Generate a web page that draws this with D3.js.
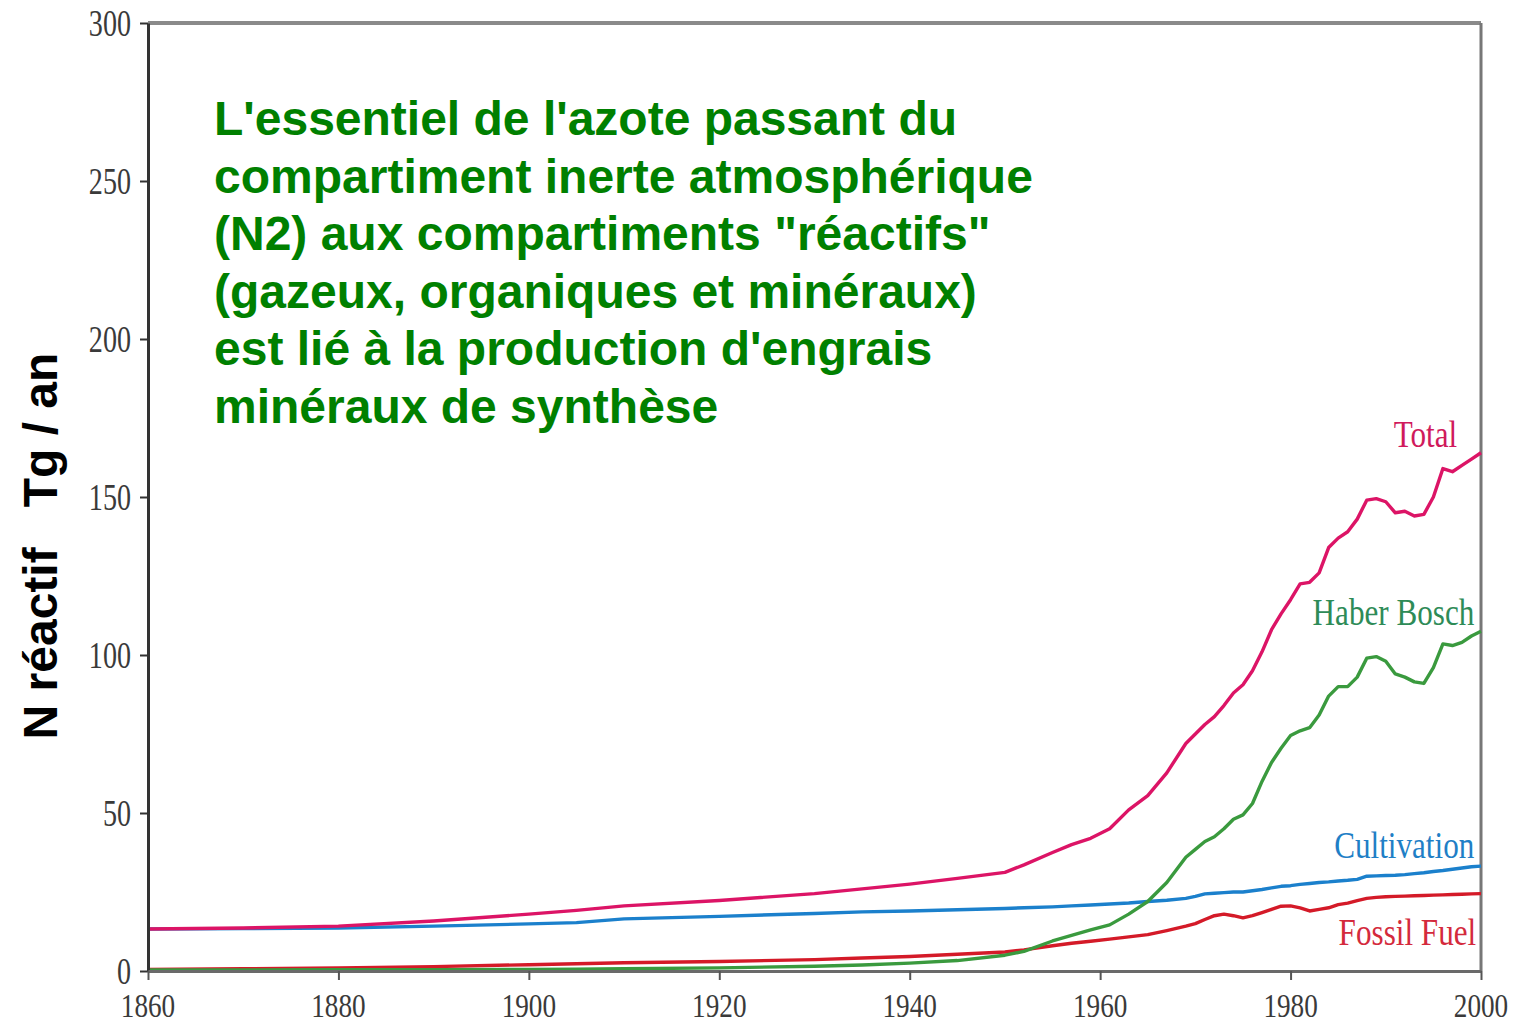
<!DOCTYPE html>
<html><head><meta charset="utf-8">
<script src="https://cdn.jsdelivr.net/npm/d3@7"></script>
<style>html,body{margin:0;padding:0;background:#fff;}svg{display:block;}</style>
</head><body>
<svg id="chart" width="1517" height="1025"></svg>
<script>
const years = [1860,1870,1880,1890,1900,1905,1910,1920,1930,1935,1940,1945,1950,1952,1955,1957,1959,1961,1963,1965,1967,1969,1970,1971,1972,1973,1974,1975,1976,1977,1978,1979,1980,1981,1982,1983,1984,1985,1986,1987,1988,1989,1990,1991,1992,1993,1994,1995,1996,1997,1998,1999,2000];
const total = [13.3,13.6,14.2,15.8,18.0,19.2,20.6,22.3,24.5,26.0,27.5,29.3,31.2,33.6,37.5,40.0,42.0,45.0,51.0,55.5,62.7,72.0,75.0,78.0,80.5,84.0,88.0,90.6,95.0,101.0,108.0,113.0,117.5,122.5,123.0,126.0,134.0,137.0,139.0,143.0,149.0,149.5,148.5,145.0,145.5,144.0,144.5,150.0,159.0,158.0,160.0,162.0,164.0];
const haberBosch = [0.3,0.3,0.4,0.4,0.5,0.6,0.7,1.0,1.5,1.9,2.5,3.3,5.0,6.2,9.5,11.3,13.0,14.6,18.0,22.0,28.0,36.0,38.5,41.0,42.5,45.0,48.0,49.4,53.0,60.0,66.0,70.5,74.5,76.0,77.0,81.0,87.0,90.0,90.0,93.0,99.0,99.5,98.0,94.0,93.0,91.5,91.0,96.0,103.5,103.0,104.0,106.0,107.5];
const cultivation = [13.3,13.4,13.6,14.2,14.9,15.3,16.5,17.3,18.2,18.7,19.0,19.4,19.8,20.0,20.3,20.6,20.9,21.2,21.5,22.0,22.4,23.0,23.6,24.4,24.6,24.8,25.0,25.0,25.4,25.8,26.3,26.8,27.0,27.4,27.7,28.0,28.2,28.5,28.7,29.0,30.0,30.1,30.2,30.3,30.5,30.8,31.1,31.5,31.8,32.2,32.6,33.0,33.2];
const fossilFuel = [0.5,0.7,1.0,1.4,2.0,2.3,2.6,3.0,3.6,4.1,4.6,5.3,6.0,6.7,8.0,8.8,9.4,10.1,10.8,11.5,12.8,14.2,15.0,16.3,17.5,18.0,17.5,16.8,17.5,18.5,19.5,20.5,20.6,20.0,19.0,19.5,20.0,21.0,21.5,22.3,23.0,23.3,23.5,23.6,23.7,23.8,23.9,24.0,24.1,24.2,24.3,24.4,24.5];

const seriesNames = ["Total","Haber Bosch","Cultivation","Fossil Fuel"];
const seriesValues = [total, haberBosch, cultivation, fossilFuel];
const lineColors = ["#dc1466","#3a9a3e","#1b80cc","#d41a28"];
const labelColors = ["#d01a5c","#2e8b57","#1f7fc6","#d42a3c"];
const labelAnchorYears = [1997.5, 1999.3, 1999.3, 1999.5];
const labelAnchorValues = [165.8, 109.5, 35.8, 8.2];

const xTicks = [1860,1880,1900,1920,1940,1960,1980,2000];
const yTicks = [0,50,100,150,200,250,300];

const yTitle = "N réactif   Tg / an";
const noteLines = [
  "L'essentiel de l'azote passant du",
  "compartiment inerte atmosphérique",
  "(N2) aux compartiments \"réactifs\"",
  "(gazeux, organiques et minéraux)",
  "est lié à la production d'engrais",
  "minéraux de synthèse"
];

const svg = d3.select("#chart");
const x = d3.scaleLinear().domain([1860,2000]).range([148,1481]);
const y = d3.scaleLinear().domain([0,300]).range([971,23]);

// frame top & right
svg.append("line").attr("x1",x(1860)).attr("x2",x(2000)).attr("y1",y(300)).attr("y2",y(300))
  .attr("stroke","#8a8a8a").attr("stroke-width",4);
svg.append("line").attr("x1",x(2000)).attr("x2",x(2000)).attr("y1",y(300)).attr("y2",y(0))
  .attr("stroke","#777").attr("stroke-width",3);

// annotation text
const note = svg.append("text").attr("font-family","'Liberation Sans', Arial, sans-serif")
  .attr("font-weight","bold").attr("font-size",48).attr("fill","#008000");
noteLines.forEach((t,i)=>{
  note.append("tspan").attr("x",214).attr("y",135+i*57.6).text(t);
});

// lines
const line = d3.line().x((d,i)=>x(years[i])).y(d=>y(d)).curve(d3.curveLinear);
const drawOrder = [2,3,1,0];
drawOrder.forEach(k=>{
  svg.append("path").datum(seriesValues[k]).attr("d",line)
    .attr("fill","none").attr("stroke",lineColors[k]).attr("stroke-width",3.4)
    .attr("stroke-linejoin","round");
});

// axes
const yAxis = d3.axisLeft(y).tickValues(yTicks).tickFormat("").tickSize(8).tickSizeOuter(0);
const gy = svg.append("g").attr("transform",`translate(${x(1860)},0)`).call(yAxis);
gy.select(".domain").attr("stroke","#333").attr("stroke-width",3);
gy.selectAll(".tick line").attr("stroke","#333").attr("stroke-width",2);

const xAxis = d3.axisBottom(x).tickValues(xTicks).tickFormat("").tickSize(9).tickSizeOuter(0);
const gx = svg.append("g").attr("transform",`translate(0,${y(0)})`).call(xAxis);
gx.select(".domain").attr("stroke","#6a6a6a").attr("stroke-width",3);
gx.selectAll(".tick line").attr("stroke","#555").attr("stroke-width",2);

// tick labels (condensed serif)
yTicks.forEach(v=>{
  svg.append("text").attr("transform",`translate(131,${y(v)+13}) scale(0.74,1)`)
    .attr("text-anchor","end").attr("font-family","'Liberation Serif','Times New Roman',serif")
    .attr("font-size",38).attr("fill","#3a3a3a").text(v);
});
xTicks.forEach(v=>{
  svg.append("text").attr("transform",`translate(${x(v)},1017) scale(0.8,1)`)
    .attr("text-anchor","middle").attr("font-family","'Liberation Serif','Times New Roman',serif")
    .attr("font-size",34).attr("fill","#3a3a3a").text(v);
});

// series labels
seriesNames.forEach((n,k)=>{
  svg.append("text")
    .attr("transform",`translate(${x(labelAnchorYears[k])},${y(labelAnchorValues[k])}) scale(0.82,1)`)
    .attr("text-anchor","end").attr("font-family","'Liberation Serif','Times New Roman',serif")
    .attr("font-size",38).attr("fill",labelColors[k]).text(n);
});

// y title
svg.append("text").attr("transform","translate(57,546) rotate(-90)")
  .attr("text-anchor","middle").attr("font-family","'Liberation Sans', Arial, sans-serif")
  .attr("font-weight","bold").attr("font-size",48).attr("fill","#000")
  .style("white-space","pre").text(yTitle);
</script>
</body></html>
